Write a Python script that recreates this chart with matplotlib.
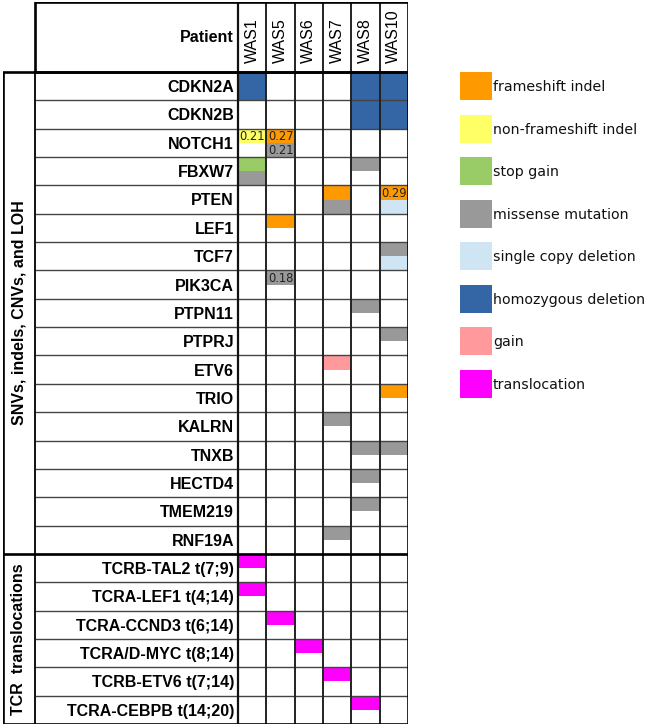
import matplotlib
matplotlib.use("Agg")
import matplotlib.pyplot as plt
from matplotlib.patches import Rectangle

# ---------------- data ----------------
patients = ["WAS1", "WAS5", "WAS6", "WAS7", "WAS8", "WAS10"]
genes = ["CDKN2A", "CDKN2B", "NOTCH1", "FBXW7", "PTEN", "LEF1", "TCF7", "PIK3CA",
         "PTPN11", "PTPRJ", "ETV6", "TRIO", "KALRN", "TNXB", "HECTD4", "TMEM219", "RNF19A"]
translocations = ["TCRB-TAL2 t(7;9)", "TCRA-LEF1 t(4;14)", "TCRA-CCND3 t(6;14)",
                  "TCRA/D-MYC t(8;14)", "TCRB-ETV6 t(7;14)", "TCRA-CEBPB t(14;20)"]
section_labels = ["SNVs, indels, CNVs, and LOH", "TCR  translocations"]

legend_labels = ["frameshift indel", "non-frameshift indel", "stop gain", "missense mutation",
                 "single copy deletion", "homozygous deletion", "gain", "translocation"]
legend_colors = ["#FF9900", "#FFFF66", "#99CC66", "#999999",
                 "#CFE5F4", "#3465A4", "#FF999C", "#FF00FF"]

# events: row name, patient, alteration type, part of cell, VAF label
ev_row = ["CDKN2A", "CDKN2A", "CDKN2A", "CDKN2B", "CDKN2B",
          "NOTCH1", "NOTCH1", "NOTCH1",
          "FBXW7", "FBXW7", "FBXW7",
          "PTEN", "PTEN", "PTEN", "PTEN",
          "LEF1", "TCF7", "TCF7", "PIK3CA", "PTPN11", "PTPRJ", "ETV6", "TRIO",
          "KALRN", "TNXB", "TNXB", "HECTD4", "TMEM219", "RNF19A",
          "TCRB-TAL2 t(7;9)", "TCRA-LEF1 t(4;14)", "TCRA-CCND3 t(6;14)",
          "TCRA/D-MYC t(8;14)", "TCRB-ETV6 t(7;14)", "TCRA-CEBPB t(14;20)"]
ev_patient = ["WAS1", "WAS8", "WAS10", "WAS8", "WAS10",
              "WAS1", "WAS5", "WAS5",
              "WAS1", "WAS1", "WAS8",
              "WAS7", "WAS7", "WAS10", "WAS10",
              "WAS5", "WAS10", "WAS10", "WAS5", "WAS8", "WAS10", "WAS7", "WAS10",
              "WAS7", "WAS8", "WAS10", "WAS8", "WAS8", "WAS7",
              "WAS1", "WAS1", "WAS5", "WAS6", "WAS7", "WAS8"]
ev_type = ["homozygous deletion"] * 5 + \
          ["non-frameshift indel", "frameshift indel", "missense mutation",
           "stop gain", "missense mutation", "missense mutation",
           "frameshift indel", "missense mutation", "frameshift indel", "single copy deletion",
           "frameshift indel", "missense mutation", "single copy deletion", "missense mutation",
           "missense mutation", "missense mutation", "gain", "frameshift indel",
           "missense mutation", "missense mutation", "missense mutation", "missense mutation",
           "missense mutation", "missense mutation"] + ["translocation"] * 6
ev_part = ["full"] * 5 + \
          ["top", "top", "bottom",
           "top", "bottom", "top",
           "top", "bottom", "top", "bottom",
           "top", "top", "bottom", "top", "top", "top", "top", "top",
           "top", "top", "top", "top", "top", "top"] + ["top"] * 6
ev_vaf = ["", "", "", "", "",
          "0.21", "0.27", "0.21",
          "", "", "",
          "", "", "0.29", "",
          "", "", "", "0.18", "", "", "", "",
          "", "", "", "", "", ""] + [""] * 6

# ---------------- layout (pixels) ----------------
W, H = 648, 727
grid_l, grid_r, grid_t, grid_b = 238, 408, 72, 724
label_l, outer_l, head_t = 35, 3, 2
rows = genes + translocations
nrow, ncol = len(rows), len(patients)
cw = (grid_r - grid_l) / ncol
rh = (grid_b - grid_t) / nrow
x_out = -(grid_l - outer_l) / cw
x_lab = -(grid_l - label_l) / cw
y_head = -(grid_t - head_t) / rh

fig = plt.figure(figsize=(W / 100, H / 100), dpi=100)
ax = fig.add_axes([outer_l / W, (H - grid_b) / H, (grid_r - outer_l) / W, (grid_b - head_t) / H])
ax.set_xlim(x_out, ncol)
ax.set_ylim(nrow, y_head)
ax.axis("off")

color_of = dict(zip(legend_labels, legend_colors))
bold = dict(family=["Liberation Sans", "DejaVu Sans"], fontweight="bold", fontsize=11.5)
reg = dict(family=["Liberation Sans", "DejaVu Sans"], fontsize=11.5)

# cell fills
for r, p, t, part, v in zip(ev_row, ev_patient, ev_type, ev_part, ev_vaf):
    i = rows.index(r)
    j = patients.index(p)
    if part == "full":
        y0, h = i, 1.0
    elif part == "top":
        y0, h = i, 0.5
    else:
        y0, h = i + 0.5, 0.5
    ax.add_patch(Rectangle((j, y0), 1, h, facecolor=color_of[t], edgecolor="none", zorder=1))
    if v:
        ax.text(j + 0.06, y0 + h / 2 + 0.02, v, fontsize=8.3, family="DejaVu Sans",
                ha="left", va="center", color="#222222", zorder=3)

# grid lines
for i in range(1, nrow):
    ax.plot([x_lab, ncol], [i, i], color="#444444", lw=1.0, zorder=2, solid_capstyle="butt")
for j in range(1, ncol):
    ax.plot([j, j], [y_head, nrow], color="#222222", lw=1.4, zorder=2, solid_capstyle="butt")
ax.plot([0, 0], [y_head, nrow], color="#111111", lw=1.6, zorder=2)
ax.plot([x_lab, x_lab], [0, nrow], color="#111111", lw=1.4, zorder=2)

# thick borders
ax.add_patch(Rectangle((x_lab, y_head), ncol - x_lab, -y_head, fill=False,
                       edgecolor="black", lw=1.9, zorder=4))
ax.add_patch(Rectangle((x_out, 0), ncol - x_out, nrow, fill=False,
                       edgecolor="black", lw=1.9, zorder=4))
ax.plot([x_out, ncol], [len(genes), len(genes)], color="black", lw=1.9, zorder=4)

# header texts
ax.text(-0.14, y_head / 2, "Patient", ha="right", va="center", **bold)
for j, p in enumerate(patients):
    ax.text(j + 0.5, -9 / rh, p, rotation=90, ha="center", va="bottom", **reg)

# row labels
for i, r in enumerate(rows):
    ax.text(-0.14, i + 0.55, r, ha="right", va="center", **bold)

# section labels
xs = (x_out + x_lab) / 2
ax.text(xs, len(genes) / 2, section_labels[0], rotation=90, ha="center", va="center", **bold)
ax.text(xs, len(genes) + len(translocations) / 2, section_labels[1], rotation=90,
        ha="center", va="center", **bold)

# legend
leg_l, leg_t, step = 460, 72, 42.5
axl = fig.add_axes([leg_l / W, (H - (leg_t + step * len(legend_labels))) / H,
                    (W - leg_l) / W, step * len(legend_labels) / H])
axl.set_xlim(0, W - leg_l)
axl.set_ylim(len(legend_labels), 0)
axl.axis("off")
sq_w, sq_h = 32, 28 / step
for k, (lab, col) in enumerate(zip(legend_labels, legend_colors)):
    axl.add_patch(Rectangle((0, k), sq_w, sq_h, facecolor=col, edgecolor="none"))
    axl.text(sq_w + 1, k + sq_h / 2 + 0.03, lab, ha="left", va="center",
             fontsize=10.2, family="DejaVu Sans", color="#111111")

fig.savefig("out.png", dpi=100)
